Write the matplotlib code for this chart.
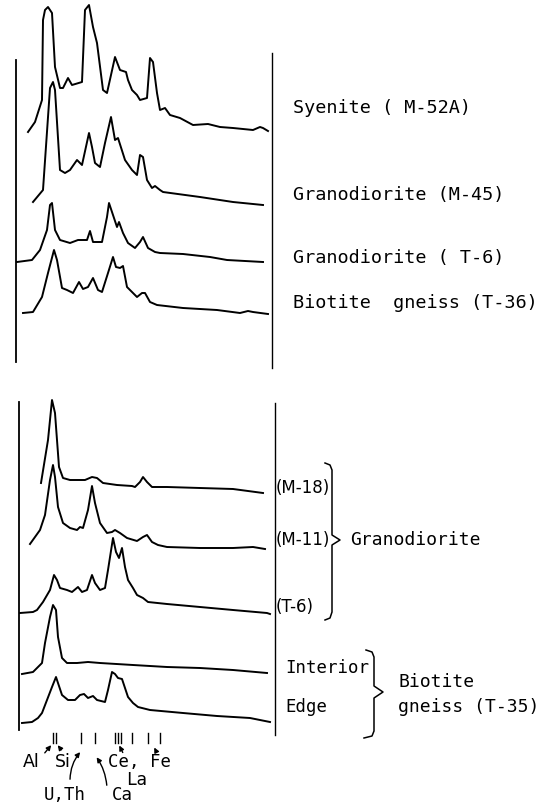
import matplotlib.pyplot as plt
from matplotlib.patches import FancyArrowPatch

# spectra (x = channel position, y = trace height, image units)
syenite_x = [28, 35, 42, 43, 45, 48, 52, 55, 60, 63, 68, 72, 82, 85, 89, 93, 97, 103, 107,
             115, 120, 126, 128, 132, 137, 140, 147, 150, 153, 157, 160, 165, 170, 180, 193,
             208, 220, 233, 253, 260, 263, 268]
syenite_y = [132, 122, 100, 20, 10, 7, 13, 67, 88, 88, 78, 85, 82, 10, 5, 27, 43, 90, 93,
             57, 70, 72, 80, 90, 95, 100, 98, 58, 62, 93, 110, 108, 115, 118, 125,
             124, 127, 128, 130, 127, 128, 131]

grano45_x = [33, 43, 50, 53, 55, 60, 65, 70, 77, 82, 89, 92, 95, 100, 105, 111, 115, 118,
             125, 132, 137, 140, 143, 147, 152, 155, 160, 163, 200, 233, 263]
grano45_y = [202, 190, 88, 82, 90, 170, 173, 170, 160, 165, 133, 147, 163, 167, 143, 117, 140, 138,
             160, 170, 175, 155, 157, 180, 188, 186, 190, 192, 197, 202, 205]

granoT6_x = [17, 32, 40, 47, 50, 52, 55, 60, 70, 78, 87, 90, 93, 102, 107, 109, 113, 117,
             119, 123, 128, 135, 140, 143, 148, 155, 160, 183, 210, 227, 263]
granoT6_y = [262, 260, 250, 230, 205, 203, 230, 240, 243, 240, 240, 231, 242, 242, 217, 203, 215, 227,
             222, 233, 243, 248, 242, 237, 248, 252, 253, 254, 257, 260, 262]

biot36_x = [23, 33, 42, 48, 54, 57, 62, 67, 73, 79, 83, 88, 93, 98, 102, 108, 113, 116, 120,
            123, 127, 132, 137, 142, 145, 150, 157, 183, 217, 240, 248, 253, 268]
biot36_y = [313, 312, 297, 273, 250, 260, 288, 290, 293, 282, 289, 287, 278, 290, 292, 273, 257, 267, 268,
            266, 287, 292, 297, 293, 293, 302, 305, 308, 310, 313, 311, 312, 314]

m18_x = [41, 48, 52, 55, 59, 63, 70, 85, 92, 97, 103, 117, 132, 135, 140, 143, 147, 152,
         167, 200, 233, 263]
m18_y = [483, 440, 400, 413, 467, 478, 480, 480, 477, 478, 483, 485, 486, 487, 482, 477, 482, 487,
         487, 488, 489, 493]

m11_x = [30, 40, 45, 50, 53, 55, 58, 63, 70, 77, 80, 83, 88, 92, 95, 100, 107, 112, 115,
         120, 127, 137, 143, 147, 152, 158, 167, 200, 233, 253, 265]
m11_y = [544, 530, 515, 480, 465, 477, 507, 523, 528, 530, 527, 528, 510, 486, 503, 523, 533, 532, 530,
         533, 538, 541, 537, 535, 542, 545, 547, 548, 548, 547, 549]

t6_x = [20, 33, 37, 43, 50, 54, 57, 60, 67, 72, 78, 82, 87, 92, 95, 100, 105, 108, 113,
        116, 119, 122, 125, 128, 133, 137, 143, 148, 167, 200, 233, 267, 270]
t6_y = [613, 612, 610, 602, 590, 575, 580, 588, 590, 592, 587, 592, 590, 575, 583, 590, 588, 570, 538,
        552, 558, 548, 567, 580, 588, 595, 598, 602, 604, 607, 610, 613, 614]

interior_x = [22, 33, 42, 45, 50, 53, 56, 58, 62, 67, 77, 88, 100, 133, 167, 200, 233, 267]
interior_y = [674, 672, 663, 643, 617, 605, 610, 637, 658, 663, 663, 662, 663, 665, 667, 668, 670, 673]

edge_x = [22, 32, 38, 42, 47, 52, 56, 58, 62, 68, 75, 80, 84, 88, 93, 97, 105, 108, 112,
          115, 118, 122, 125, 128, 133, 138, 150, 183, 217, 250, 270]
edge_y = [723, 722, 718, 713, 700, 687, 677, 683, 695, 700, 700, 695, 694, 698, 696, 700, 702, 690, 672,
          674, 678, 679, 688, 697, 703, 707, 710, 713, 716, 718, 722]

top_labels = ['Syenite ( M-52A)', 'Granodiorite (M-45)', 'Granodiorite ( T-6)', 'Biotite  gneiss (T-36)']
bottom_labels = ['(M-18)', '(M-11)', '(T-6)']
sample_parts = ['Interior', 'Edge']
line_marks = [53, 56, 81, 95, 115, 118, 121, 132, 148, 160]

mono = 'DejaVu Sans Mono'

fig = plt.figure(figsize=(5.49, 8.06), dpi=100)
ax = fig.add_axes([0, 0, 1, 1])
ax.set_xlim(0, 549)
ax.set_ylim(806, 0)
ax.axis('off')

lw = 1.4
for xs, ys in [(syenite_x, syenite_y), (grano45_x, grano45_y), (granoT6_x, granoT6_y),
               (biot36_x, biot36_y), (m18_x, m18_y), (m11_x, m11_y), (t6_x, t6_y),
               (interior_x, interior_y), (edge_x, edge_y)]:
    ax.plot(xs, ys, color='black', lw=lw, solid_joinstyle='round')

# frame lines of both panels
ax.plot([16, 16], [60, 362], color='black', lw=1.3)
ax.plot([272, 272], [53, 368], color='black', lw=1.0)
ax.plot([19, 19], [402, 730], color='black', lw=1.3)
ax.plot([275, 275], [403, 735], color='black', lw=1.0)

for lab, y in zip(top_labels, [108, 195, 258, 303]):
    ax.text(293, y, lab, fontsize=13.3, family=mono, va='center', ha='left')

for lab, y in zip(bottom_labels, [488, 540, 607]):
    ax.text(276, y, lab, fontsize=12, va='center', ha='left')
for lab, y in zip(sample_parts, [668, 707]):
    ax.text(285, y, lab, fontsize=12.5, family=mono, va='center', ha='left')

ax.text(350, 540, 'Granodiorite', fontsize=13, family=mono, va='center', ha='left')
ax.text(398, 682, 'Biotite', fontsize=13, family=mono, va='center', ha='left')
ax.text(398, 707, 'gneiss (T-35)', fontsize=13, family=mono, va='center', ha='left')

# braces
ax.plot([325, 330, 332, 332, 340, 332, 332, 330, 325],
        [463, 465, 470, 535, 540, 545, 612, 618, 620], color='black', lw=1.1)
ax.plot([366, 372, 374, 374, 383, 374, 374, 372, 364],
        [650, 652, 657, 686, 692, 698, 731, 736, 738], color='black', lw=1.1)

# element line markers
for x in line_marks:
    ax.plot([x, x], [733, 743], color='black', lw=1.0)

lfs = 12.5
ax.text(31, 762, 'Al', fontsize=lfs, ha='center', va='center')
ax.text(63, 762, 'Si', fontsize=lfs, ha='center', va='center')
ax.text(140, 762, 'Ce, Fe', fontsize=lfs, family=mono, ha='center', va='center')
ax.text(137, 780, 'La', fontsize=lfs, family=mono, ha='center', va='center')
ax.text(65, 795, 'U,Th', fontsize=lfs, family=mono, ha='center', va='center')
ax.text(122, 795, 'Ca', fontsize=lfs, family=mono, ha='center', va='center')

arrows = [((43, 755), (53, 743), 0), ((63, 752), (56, 743), 0),
          ((70, 782), (82, 750), -0.2), ((107, 788), (95, 755), 0.15),
          ((124, 755), (118, 743), 0), ((157, 753), (153, 745), 0)]
for (x0, y0), (x1, y1), rad in arrows:
    ax.add_patch(FancyArrowPatch((x0, y0), (x1, y1), arrowstyle='-|>', mutation_scale=7,
                                 connectionstyle=f'arc3,rad={rad}', color='black', lw=1.0))

fig.savefig('out.png', dpi=100)
